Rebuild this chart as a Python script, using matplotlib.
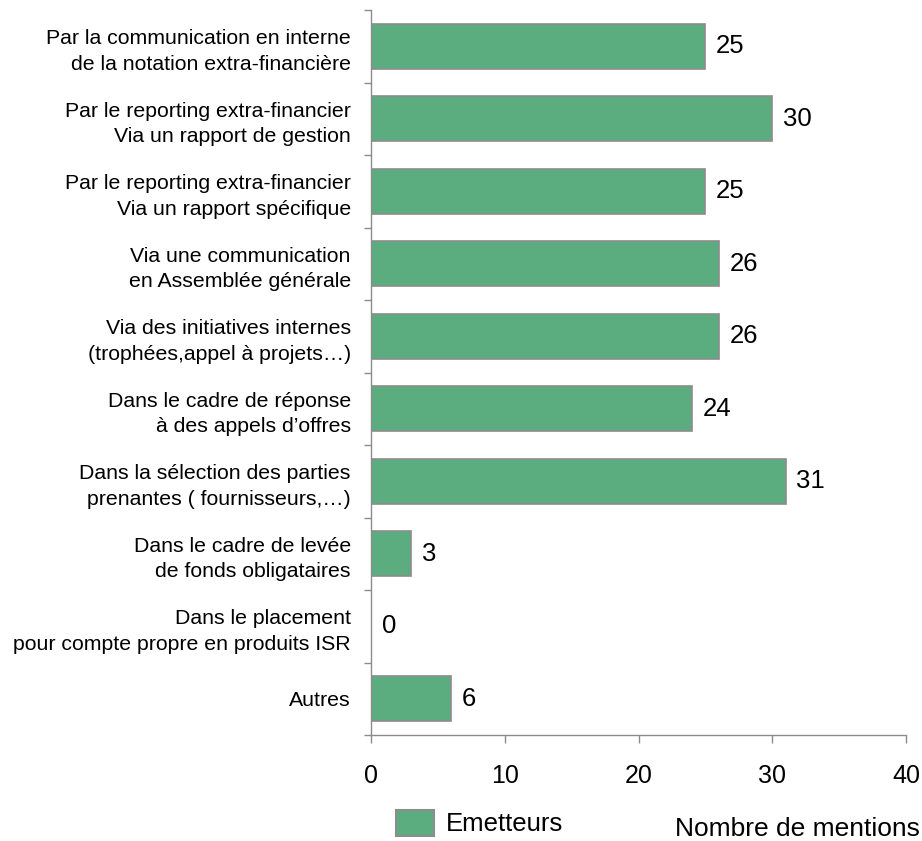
import matplotlib
matplotlib.use("Agg")
import matplotlib.pyplot as plt
from matplotlib.patches import Patch

plt.rcParams['font.family'] = ['Liberation Sans', 'DejaVu Sans']

categories = [
    "Par la communication en interne\nde la notation extra-financière",
    "Par le reporting extra-financier\nVia un rapport de gestion",
    "Par le reporting extra-financier\nVia un rapport spécifique",
    "Via une communication\nen Assemblée générale",
    "Via des initiatives internes\n(trophées,appel à projets…)",
    "Dans le cadre de réponse\nà des appels d’offres",
    "Dans la sélection des parties\nprenantes ( fournisseurs,…)",
    "Dans le cadre de levée\nde fonds obligataires",
    "Dans le placement\npour compte propre en produits ISR",
    "Autres",
]
values = [25, 30, 25, 26, 26, 24, 31, 3, 0, 6]
xticks = [0, 10, 20, 30, 40]
series_name = "Emetteurs"
xlabel = "Nombre de mentions"

bar_color = "#5BAD80"
edge_color = "#8C8C8C"
spine_color = "#8C8C8C"
big = 18.5

fig = plt.figure(figsize=(9.22, 8.41), dpi=100)
ax = fig.add_axes([371/922, 1 - 735/841, (906-371)/922, (735-10)/841])

n = len(categories)
ypos = list(range(n))
ax.barh(ypos, values, height=0.62, color=bar_color, edgecolor=edge_color, linewidth=1.2)
ax.set_ylim(n - 0.5, -0.5)
ax.set_xlim(0, 40)

for y, v in zip(ypos, values):
    ax.text(v + 0.8, y, str(v), va='center', ha='left', fontsize=big, color='black')

ax.set_yticks(ypos)
ax.set_yticklabels(categories, fontsize=15.3, linespacing=1.42, ha='right')
ax.tick_params(axis='y', length=0, pad=14.5)
# boundary tick marks
ax.set_yticks([i - 0.5 for i in range(n + 1)], minor=True)
ax.tick_params(axis='y', which='minor', length=5, color=spine_color, width=1)

ax.set_xticks(xticks)
ax.set_xticklabels([str(t) for t in xticks], fontsize=18)
ax.tick_params(axis='x', length=6, color=spine_color, width=1, pad=15)

for s in ['top', 'right']:
    ax.spines[s].set_visible(False)
for s in ['left', 'bottom']:
    ax.spines[s].set_color(spine_color)
    ax.spines[s].set_linewidth(1)

fig.text(920/922, 1 - 836/841, xlabel, ha='right', va='baseline', fontsize=19)

handle = Patch(facecolor=bar_color, edgecolor=edge_color, linewidth=1.5)
leg = fig.legend([handle], [series_name], loc='center left',
                 bbox_to_anchor=(396/922, 1 - 823/841), frameon=False,
                 borderpad=0, borderaxespad=0,
                 fontsize=big, handlelength=1.48, handleheight=1.2, handletextpad=0.45)

fig.savefig("out.png", dpi=100)
